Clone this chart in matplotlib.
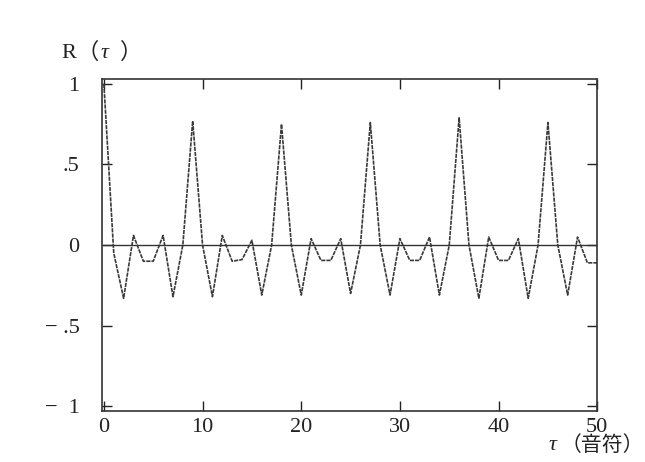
import matplotlib.pyplot as plt

# 自己相関 R(τ)、τ = 0..50（音符）
tau = list(range(51))
r_tau = [1.0, -0.05, -0.33, 0.06, -0.10, -0.10, 0.06, -0.32, 0.0, 0.77,
         0.0, -0.32, 0.06, -0.10, -0.09, 0.03, -0.31, 0.0, 0.75,
         0.0, -0.31, 0.04, -0.095, -0.095, 0.04, -0.30, 0.0, 0.76,
         0.0, -0.31, 0.04, -0.095, -0.095, 0.05, -0.31, 0.0, 0.79,
         0.0, -0.33, 0.05, -0.095, -0.095, 0.04, -0.33, 0.0, 0.76,
         0.0, -0.31, 0.05, -0.11, -0.11]

x_ticks = [0, 10, 20, 30, 40, 50]
y_ticks = [1, 0.5, 0, -0.5, -1]
y_labels = ['1', '.5', '0', '− .5', '−  1']

FONT = ['Liberation Serif', 'Noto Sans CJK JP']
plt.rcParams['font.family'] = FONT
TXT = '#222222'

W, H = 645, 462
fig = plt.figure(figsize=(W / 100, H / 100), dpi=100)
ax = fig.add_axes([0.158, 0.110, 0.768, 0.719])

ax.plot(tau, r_tau, color='#3a3a3a', linewidth=1.2, linestyle=(0, (2.5, 0.6)))
ax.axhline(0, color='#333333', linewidth=1.0)

ax.set_xlim(-0.2, 50)
ax.set_ylim(-1.03, 1.03)

ax.set_xticks(x_ticks)
ax.set_xticklabels([str(t) for t in x_ticks])
ax.set_yticks(y_ticks)
ax.set_yticklabels(y_labels)
ax.tick_params(direction='in', top=True, right=True, length=7, width=1.0,
               labelsize=16, colors=TXT)
ax.tick_params(axis='y', pad=16)
ax.tick_params(axis='x', pad=5)

for s in ax.spines.values():
    s.set_linewidth(1.2)
    s.set_color('#333333')


def px_text(x, y, s, size=16, **kw):
    # 位置はピクセル（左上原点）で指定
    fig.text(x / W, 1 - y / H, s, fontsize=size, color=TXT, va='center', **kw)


# 縦軸ラベル R（τ）
px_text(61, 53, 'R', family=FONT)
px_text(77, 53, '（', family=FONT)
px_text(101, 53, 'τ', family=FONT, style='italic')
px_text(120, 53, '）', family=FONT)

# 横軸ラベル τ（音符）
px_text(549, 445, 'τ', family=FONT, style='italic')
px_text(644, 446, '（音符）', size=15, family=FONT, ha='right')

plt.savefig('out.png')
plt.close()
